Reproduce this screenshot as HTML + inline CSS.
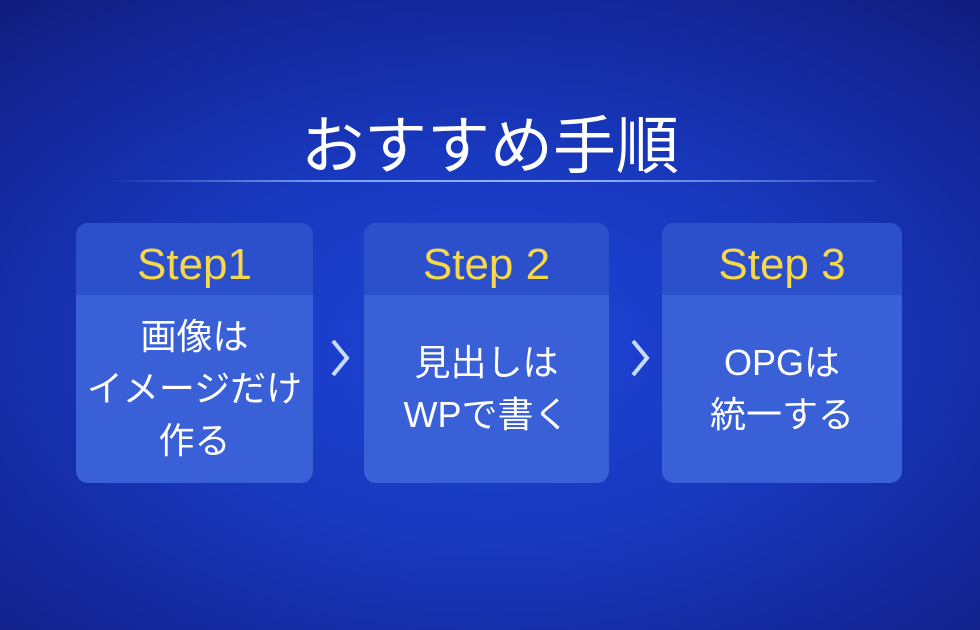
<!DOCTYPE html>
<html><head><meta charset="utf-8"><style>
body{margin:0;width:980px;height:630px;overflow:hidden;font-family:"Liberation Sans","Noto Sans CJK JP",sans-serif;
background:radial-gradient(ellipse 75% 70% at 50% 55%,#1d45d8 0%,#1838bd 45%,#14279a 80%,#111d80 100%);position:relative}
.title{position:absolute;left:0;width:980px;top:110px;text-align:center;color:#fff;font-size:63px;line-height:74px}
.line{position:absolute;left:105px;width:770px;top:180px;height:2px;background:linear-gradient(90deg,rgba(120,160,255,0),#7da2f0 30%,#9ab6f5 60%,rgba(120,160,255,0.2))}
.card{position:absolute;top:223px;height:260px;border-radius:12px;overflow:hidden;background:#3a60d8}
.hd{height:72px;background:#2c4fcc;color:#f6d84a;font-size:44px;text-align:center;line-height:84px}
.bd{height:188px;display:flex;align-items:center;justify-content:center;text-align:center;color:#fff;font-size:36px;line-height:52px;white-space:nowrap}
.ch{position:absolute;top:338px;width:20px;height:40px}
</style></head><body>
<div class="title">おすすめ手順</div>
<div class="line"></div>
<div class="card" style="left:76px;width:237px"><div class="hd">Step1</div><div class="bd">画像は<br>イメージだけ<br>作る</div></div>
<div class="card" style="left:364px;width:245px"><div class="hd">Step 2</div><div class="bd">見出しは<br>WPで書く</div></div>
<div class="card" style="left:662px;width:240px"><div class="hd">Step 3</div><div class="bd">OPGは<br>統一する</div></div>
<svg class="ch" style="left:330px" viewBox="0 0 20 40"><polyline points="3,3 17,20 3,37" fill="none" stroke="#c8dcff" stroke-width="4"/></svg>
<svg class="ch" style="left:630px" viewBox="0 0 20 40"><polyline points="3,3 17,20 3,37" fill="none" stroke="#c8dcff" stroke-width="4"/></svg>
</body></html>
